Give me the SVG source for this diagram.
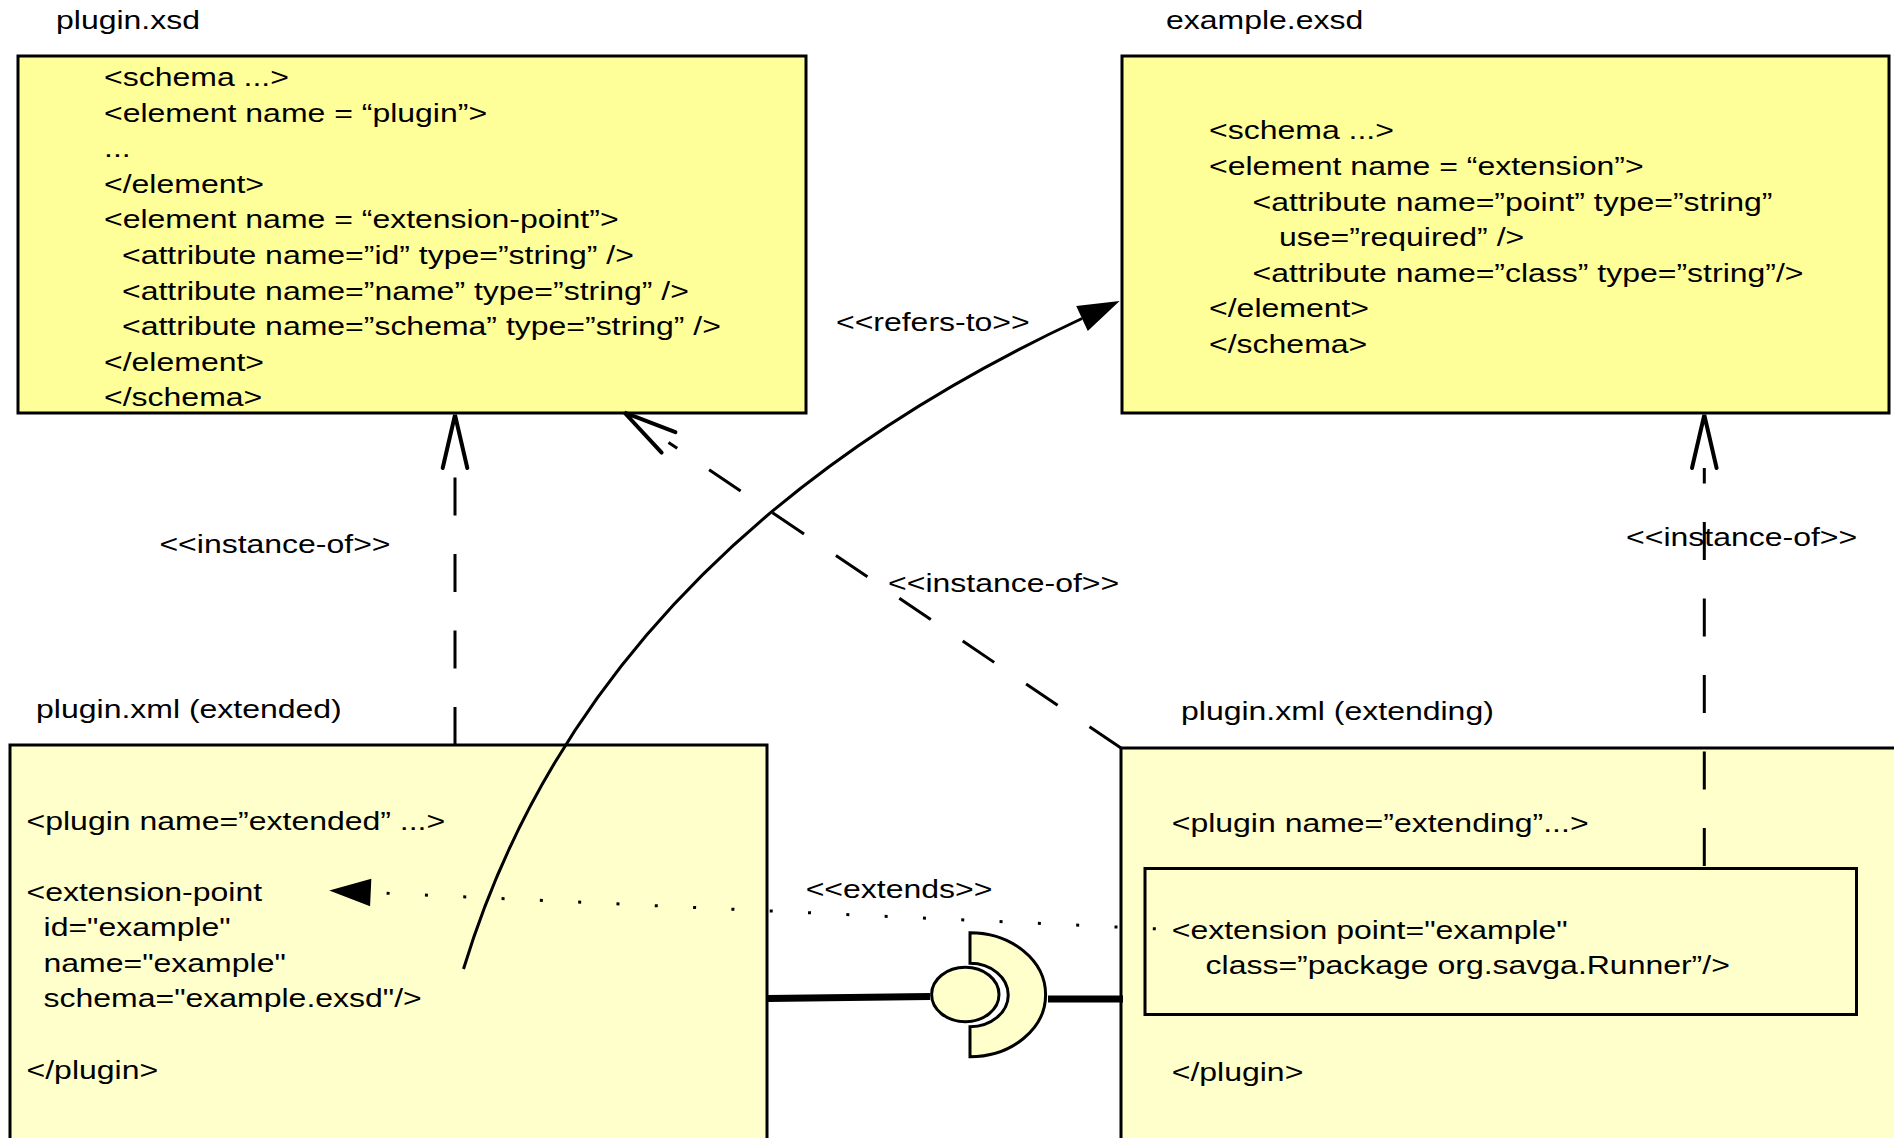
<svg xmlns="http://www.w3.org/2000/svg" width="1894" height="1138" viewBox="0 0 1894 1138">
<style>
.t text{font-family:"Liberation Sans",Arial,sans-serif;font-size:26.5px;fill:#000}
.box1{fill:#ffff99;stroke:#000;stroke-width:3}
.box2{fill:#ffffcc;stroke:#000;stroke-width:3}
.dash{fill:none;stroke:#000;stroke-width:3;stroke-dasharray:38 38.5}
.dot{fill:none;stroke:#000;stroke-width:3;stroke-dasharray:3 35.35}
.solid{fill:none;stroke:#000;stroke-width:3}
.thick{fill:none;stroke:#000;stroke-width:7}
</style>
<defs>
<marker id="open" markerUnits="userSpaceOnUse" orient="auto" overflow="visible" refX="0" refY="0" markerWidth="1" markerHeight="1">
<path d="M0,-12.3 L53,0 L0,12.3" fill="none" stroke="#000" stroke-width="4" stroke-linecap="round" stroke-dasharray="none"/>
</marker>
<marker id="filled" markerUnits="userSpaceOnUse" orient="auto" overflow="visible" refX="0" refY="0" markerWidth="1" markerHeight="1">
<path d="M0,-13.7 L41.5,0 L0,13.7 Z" fill="#000" stroke="none"/>
</marker>
</defs>
<rect width="1894" height="1138" fill="#fff"/>

<g id="plugin-xsd">
<rect class="box1" x="18" y="56" width="788" height="357"/>
<g class="t" transform="scale(1.207 1)">
<text x="46.4" y="29.5">plugin.xsd</text>
<text x="86.2" y="86">&lt;schema ...&gt;</text>
<text x="86.2" y="121.6">&lt;element name = “plugin”&gt;</text>
<text x="86.2" y="157.2">...</text>
<text x="86.2" y="192.8">&lt;/element&gt;</text>
<text x="86.2" y="228.4">&lt;element name = “extension-point”&gt;</text>
<text x="101.1" y="264">&lt;attribute name=”id” type=”string” /&gt;</text>
<text x="101.1" y="299.6">&lt;attribute name=”name” type=”string” /&gt;</text>
<text x="101.1" y="335.2">&lt;attribute name=”schema” type=”string” /&gt;</text>
<text x="86.2" y="370.8">&lt;/element&gt;</text>
<text x="86.2" y="406.4">&lt;/schema&gt;</text>
</g>
</g>

<g id="example-exsd">
<rect class="box1" x="1122" y="56" width="767" height="357"/>
<g class="t" transform="scale(1.207 1)">
<text x="966" y="29.5">example.exsd</text>
<text x="1001.7" y="139.5">&lt;schema ...&gt;</text>
<text x="1001.7" y="175.1">&lt;element name = “extension”&gt;</text>
<text x="1037.8" y="210.7">&lt;attribute name=”point” type=”string”</text>
<text x="1059.6" y="246.3">use=”required” /&gt;</text>
<text x="1037.8" y="281.9">&lt;attribute name=”class” type=”string”/&gt;</text>
<text x="1001.7" y="317.5">&lt;/element&gt;</text>
<text x="1001.7" y="353.1">&lt;/schema&gt;</text>
</g>
</g>

<g id="plugin-extended">
<rect class="box2" x="10" y="745" width="757" height="420"/>
<g class="t" transform="scale(1.207 1)">
<text x="29.9" y="717.6">plugin.xml (extended)</text>
<text x="22" y="830">&lt;plugin name=”extended” ...&gt;</text>
<text x="22" y="901">&lt;extension-point</text>
<text x="36.1" y="936">id="example"</text>
<text x="36.1" y="972">name="example"</text>
<text x="36.1" y="1007.5">schema="example.exsd"/&gt;</text>
<text x="22" y="1079">&lt;/plugin&gt;</text>
</g>
</g>

<g id="plugin-extending">
<rect class="box2" x="1121" y="748" width="800" height="420"/>
<rect class="box2" x="1145" y="868.5" width="711.5" height="146"/>
<g class="t" transform="scale(1.207 1)">
<text x="978.5" y="720">plugin.xml (extending)</text>
<text x="970.8" y="832">&lt;plugin name=”extending”...&gt;</text>
<text x="970.8" y="938.7">&lt;extension point="example"</text>
<text x="998.8" y="973.7">class=”package org.savga.Runner”/&gt;</text>
<text x="970.8" y="1081">&lt;/plugin&gt;</text>
</g>
</g>

<g id="connectors">
<path class="dash" d="M455,745 L455,468" marker-end="url(#open)"/>
<path class="dash" d="M1704.3,866 L1704.3,468" marker-end="url(#open)"/>
<path class="dash" d="M1121,748 L668.5,442.4" marker-end="url(#open)"/>
<path class="solid" d="M463.5,969 Q592,547 1082,318.5" marker-end="url(#filled)"/>
<path class="dot" d="M1155.8,928.8 L370.7,892.5" marker-end="url(#filled)"/>
<path class="thick" d="M768,998.5 L930,996.5"/>
<path class="thick" d="M1048,999 L1123,999"/>
<g id="interface">
<path d="M970,932.7 A75.7,62 0 0 1 970,1056.7 L970,1026.7 A38.3,31.7 0 0 0 970,963.3 Z" fill="#ffffcc" stroke="#000" stroke-width="3"/>
<ellipse cx="965.3" cy="994.5" rx="33.7" ry="27.2" fill="#ffffcc" stroke="#000" stroke-width="3"/>
</g>
<g class="t" transform="scale(1.207 1)">
<text x="692.6" y="331">&lt;&lt;refers-to&gt;&gt;</text>
<text x="132.1" y="553.3">&lt;&lt;instance-of&gt;&gt;</text>
<text x="735.8" y="592">&lt;&lt;instance-of&gt;&gt;</text>
<text x="1347.2" y="546">&lt;&lt;instance-of&gt;&gt;</text>
<text x="667.5" y="897.6">&lt;&lt;extends&gt;&gt;</text>
</g>
</g>
</svg>
